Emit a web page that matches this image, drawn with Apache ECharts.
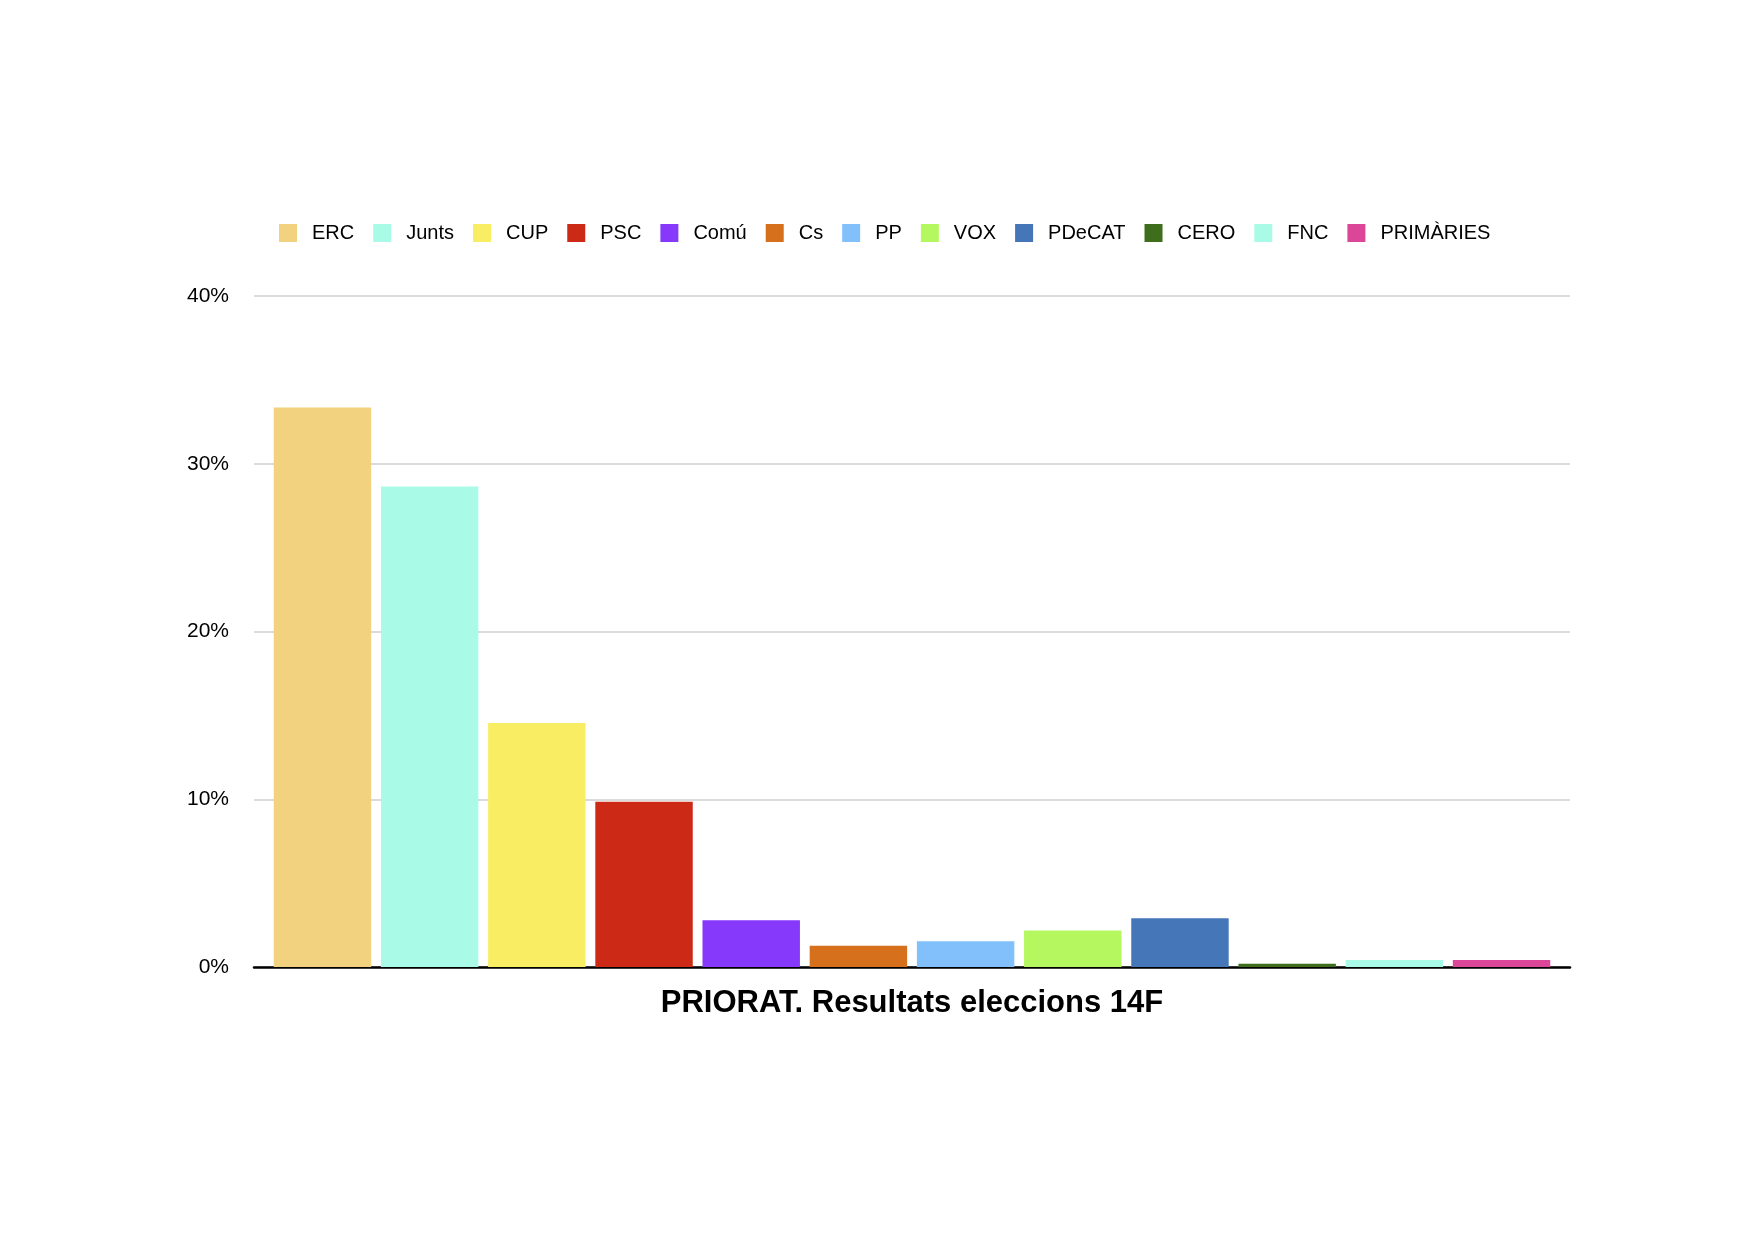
<!DOCTYPE html>
<html>
<head>
<meta charset="utf-8">
<script src="https://cdn.jsdelivr.net/npm/echarts@6/dist/echarts.min.js"></script>
<style>
  html, body { margin: 0; padding: 0; background: #fff; }
  #main { width: 1754px; height: 1239px; }
</style>
</head>
<body>
<div id="main"></div>
<script>
// dades: percentatge de vots per partit
var partits = ['ERC', 'Junts', 'CUP', 'PSC', 'Comú', 'Cs', 'PP', 'VOX', 'PDeCAT', 'CERO', 'FNC', 'PRIMÀRIES'];
var percentatges = [33.35, 28.65, 14.55, 9.85, 2.78, 1.27, 1.53, 2.17, 2.9, 0.2, 0.42, 0.42];
var colors = ['#f2d27f', '#a9fbe8', '#f9ed63', '#cc2a16', '#8639fb', '#d7701c',
              '#82c0fb', '#b4f75f', '#4577b8', '#3e6e1c', '#a9fbe8', '#dc4699'];
var yTicks = [0, 10, 20, 30, 40];
var titol = 'PRIORAT. Resultats eleccions 14F';

var font = 'Liberation Sans, Helvetica, Arial, sans-serif';
var myChart = echarts.init(document.getElementById('main'));

var series = [];
for (var i = 0; i < partits.length; i++) {
    series.push({
        name: partits[i],
        type: 'bar',
        data: [percentatges[i]],
        itemStyle: { color: colors[i] },
        barGap: '10%',
        barCategoryGap: '3%'
    });
}

var option = {
    backgroundColor: '#fff',
    animation: false,
    color: colors,
    legend: {
        data: partits,
        left: 279,
        top: 223,
        padding: 0,
        itemWidth: 18,
        itemHeight: 18,
        itemGap: 19,
        icon: 'rect',
        textStyle: {
            fontFamily: font,
            fontSize: 20,
            color: '#000',
            padding: [0, 0, 0, 10]
        }
    },
    grid: {
        left: 254,
        right: 184,
        top: 296,
        bottom: 272,
        containLabel: false
    },
    xAxis: {
        type: 'category',
        data: [''],
        name: titol,
        nameLocation: 'middle',
        nameGap: 21,
        nameTextStyle: {
            fontFamily: font,
            fontSize: 31,
            fontWeight: 'bold',
            color: '#000',
            verticalAlign: 'top'
        },
        axisLine: { lineStyle: { color: '#000', width: 2.5 } },
        axisTick: { show: false },
        axisLabel: { show: false }
    },
    yAxis: {
        type: 'value',
        min: yTicks[0],
        max: yTicks[yTicks.length - 1],
        interval: 10,
        axisLine: { show: false },
        axisTick: { show: false },
        axisLabel: {
            formatter: '{value}%',
            margin: 25,
            fontFamily: font,
            fontSize: 21,
            color: '#000'
        },
        splitLine: { lineStyle: { color: '#cfcfcf', width: 1.5 } }
    },
    series: series
};

myChart.setOption(option);
</script>
</body>
</html>
